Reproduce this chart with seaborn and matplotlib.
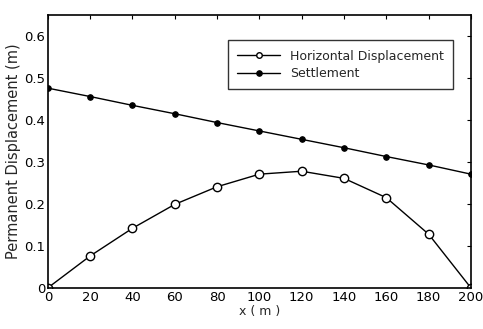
import numpy as np
import pandas as pd
import matplotlib
matplotlib.use("Agg")
import matplotlib.pyplot as plt
import seaborn as sns

# data
x_m = [0, 20, 40, 60, 80, 100, 120, 140, 160, 180, 200]
horizontal = [0.0, 0.076, 0.142, 0.199, 0.241, 0.271, 0.278, 0.261, 0.215, 0.128, 0.0]
settlement = [0.476, 0.456, 0.435, 0.415, 0.394, 0.374, 0.354, 0.334, 0.313, 0.293, 0.271]
y_ticks = [0, 0.1, 0.2, 0.3, 0.4, 0.5, 0.6]
y_labels = ["0", "0.1", "0.2", "0.3", "0.4", "0.5", "0.6"]

df = pd.DataFrame({"x": x_m, "Horizontal Displacement": horizontal, "Settlement": settlement})

sns.set_style("white")
plt.rcParams["font.family"] = ["DejaVu Sans"]

fig = plt.figure(figsize=(4.83, 3.29), dpi=100)
ax = fig.add_axes([0.099, 0.125, 0.876, 0.829])

sns.lineplot(data=df, x="x", y="Horizontal Displacement", ax=ax, color="black", lw=1.0,
             marker="o", markersize=6, markerfacecolor="white", markeredgecolor="black",
             markeredgewidth=1.0, label="Horizontal Displacement")
sns.lineplot(data=df, x="x", y="Settlement", ax=ax, color="black", lw=1.0,
             marker="o", markersize=4, markerfacecolor="black", markeredgecolor="black",
             label="Settlement")

ax.set_xlim(0, 200)
ax.set_ylim(0, 0.65)
ax.set_xticks(x_m)
ax.set_yticks(y_ticks)
ax.set_yticklabels(y_labels)
ax.tick_params(direction="in", top=True, right=True, length=3, width=0.8,
               labelsize=9.5, colors="black", pad=2)
for s in ax.spines.values():
    s.set_color("black")
    s.set_linewidth(1.2)

ax.set_xlabel("x ( m )", fontsize=9, labelpad=1)
ax.set_ylabel("Permanent Displacement (m)", fontsize=10.5, labelpad=2)

leg = ax.legend(loc="upper left", bbox_to_anchor=(0.426, 0.908), borderaxespad=0,
                fontsize=9, frameon=True, fancybox=False, edgecolor="black",
                handlelength=3.4, borderpad=0.75, labelspacing=0.35)
leg.get_frame().set_linewidth(1.0)
for h in leg.legend_handles:
    h.set_markersize(4)

fig.savefig("out.png", dpi=100)
